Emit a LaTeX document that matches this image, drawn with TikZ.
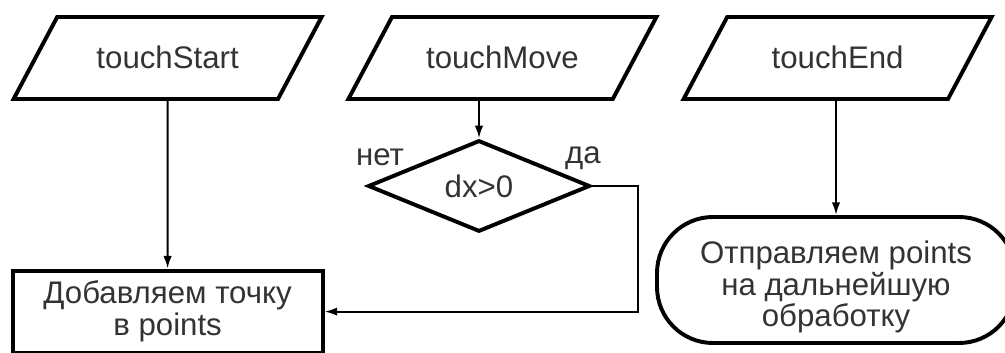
\documentclass[tikz,border=0pt]{standalone}
\usepackage{fontspec}
\setmainfont{Liberation Sans}
\usetikzlibrary{shapes,positioning,arrows.meta}
\tikzstyle{event}=[trapezium,trapezium left angle=62,trapezium right angle=118,trapezium stretches body,draw,line width=2.8pt,minimum width=7.7cm,text height=1.295cm,text depth=0.755cm,inner sep=0pt]
\tikzstyle{decision}=[diamond,draw,line width=2.8pt,minimum width=5.55cm,minimum height=2.1cm,inner sep=0pt]
\tikzstyle{process}=[rectangle,draw,line width=2.8pt,minimum width=7.75cm,minimum height=2.05cm,align=center]
\tikzstyle{terminal}=[rectangle,rounded corners=1.4cm,draw,line width=2.8pt,minimum width=8.95cm,minimum height=3.15cm,align=center]
\tikzstyle{flow} = [draw,line width=1.5pt,-{Latex[length=9pt,width=6pt]}]
\tikzstyle{answer} = [inner sep=0pt]

\begin{document}
\begin{tikzpicture}[font=\fontsize{22.2}{22.5}\selectfont, text=black!80]
    \useasboundingbox (0,0) rectangle (25.125,8.8);

    % the three touch events on top
    \foreach \pos/\name/\label in {{(4.19,7.35)/ts/touchStart}, {(12.56,7.35)/tm/touchMove}, {(20.94,7.35)/te/touchEnd}}
        \node[event] (\name) at \pos {\label};

    % check, action and end blocks
    \node[decision] (dx) at (11.975,4.15) {dx>0};
    \node[process] (add) at (4.19,1.01) {Добавляем точку\\в points};
    \node[terminal] (send) at (20.9,1.8) {\rule{0pt}{0.92cm}Отправляем points\\на дальнейшую\\обработку};

    \node[answer] (no) at (9.5,4.87) {нет};
    \node[answer] (yes) at (14.575,4.84) {да};

    % connect blocks
    \path[flow] (ts.south) -- (add.north);
    \path[flow] (tm.south -| dx.north) -- (dx.north);
    \path[flow] (te.south -| send.north) -- (send.north);
    \path[flow] (dx.east) -- ++(1.15,0) |- (add.east);

\end{tikzpicture}
\end{document}
